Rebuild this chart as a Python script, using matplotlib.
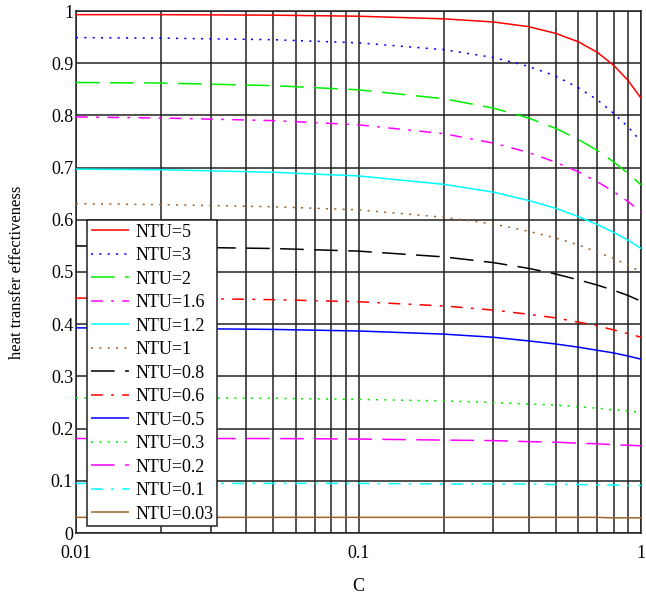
import matplotlib
matplotlib.use('Agg')
import matplotlib.pyplot as plt
from matplotlib.ticker import FixedLocator, FixedFormatter, NullFormatter

plt.rcParams['font.family'] = ['Liberation Serif', 'DejaVu Serif']
plt.rcParams['lines.scale_dashes'] = False

# capacity ratio C (read along x axis)
C = [0.01, 0.02, 0.05, 0.1, 0.2, 0.3, 0.4, 0.5, 0.6, 0.7, 0.8, 0.9, 1.0]

# effectiveness at the C values above
ntu_labels = ['NTU=5', 'NTU=3', 'NTU=2', 'NTU=1.6', 'NTU=1.2', 'NTU=1', 'NTU=0.8',
              'NTU=0.6', 'NTU=0.5', 'NTU=0.3', 'NTU=0.2', 'NTU=0.1', 'NTU=0.03']
eff_5 = [0.993, 0.993, 0.992, 0.990, 0.985, 0.979, 0.970, 0.957, 0.941, 0.921, 0.896, 0.867, 0.833]
eff_3 = [0.949, 0.948, 0.945, 0.939, 0.926, 0.911, 0.894, 0.875, 0.853, 0.830, 0.804, 0.778, 0.750]
eff_2 = [0.863, 0.862, 0.857, 0.849, 0.832, 0.814, 0.795, 0.775, 0.754, 0.733, 0.711, 0.689, 0.667]
eff_1_6 = [0.797, 0.795, 0.790, 0.782, 0.765, 0.747, 0.729, 0.710, 0.692, 0.673, 0.654, 0.635, 0.615]
eff_1_2 = [0.697, 0.696, 0.691, 0.684, 0.668, 0.653, 0.637, 0.622, 0.606, 0.591, 0.576, 0.561, 0.545]
eff_1 = [0.631, 0.629, 0.625, 0.619, 0.605, 0.592, 0.578, 0.565, 0.552, 0.538, 0.526, 0.513, 0.500]
eff_0_8 = [0.550, 0.548, 0.545, 0.540, 0.529, 0.518, 0.507, 0.496, 0.485, 0.475, 0.465, 0.455, 0.444]
eff_0_6 = [0.450, 0.450, 0.447, 0.443, 0.435, 0.427, 0.419, 0.412, 0.404, 0.397, 0.389, 0.382, 0.375]
eff_0_5 = [0.393, 0.392, 0.390, 0.387, 0.381, 0.375, 0.368, 0.362, 0.356, 0.350, 0.345, 0.339, 0.333]
eff_0_3 = [0.259, 0.259, 0.258, 0.256, 0.253, 0.250, 0.247, 0.245, 0.242, 0.239, 0.236, 0.234, 0.231]
eff_0_2 = [0.181, 0.181, 0.181, 0.180, 0.178, 0.177, 0.175, 0.174, 0.172, 0.171, 0.169, 0.168, 0.167]
eff_0_1 = [0.095, 0.095, 0.095, 0.095, 0.094, 0.094, 0.094, 0.093, 0.093, 0.092, 0.092, 0.091, 0.091]
eff_0_03 = [0.030, 0.030, 0.030, 0.030, 0.030, 0.030, 0.030, 0.030, 0.030, 0.030, 0.029, 0.029, 0.029]

curves = [eff_5, eff_3, eff_2, eff_1_6, eff_1_2, eff_1, eff_0_8,
          eff_0_6, eff_0_5, eff_0_3, eff_0_2, eff_0_1, eff_0_03]

brown = '#a0652d'
solid = (0, ())
dotted = (0, (1.5, 4.5))
dashed = (0, (17, 7.5))
dashdot = (0, (8.5, 6, 2, 6))
colors = ['#ff0000', '#0000ff', '#00ee00', '#ff00ff', '#00ffff', brown, 'black',
          '#ff0000', '#0000ff', '#00ee00', '#ff00ff', '#00ffff', brown]
styles = [solid, dotted, dashed, dashdot, solid, dotted, dashed,
          dashdot, solid, dotted, dashed, dashdot, solid]

fig = plt.figure(figsize=(6.46, 5.99), dpi=100)
ax = fig.add_axes([76/646, 1-533/599, 565/646, 522/599])

for y, lab, col, ls in zip(curves, ntu_labels, colors, styles):
    ax.plot(C, y, color=col, linestyle=ls, lw=1.1, label=lab, zorder=3)

ax.set_xscale('log')
ax.set_xlim(0.01, 1)
ax.set_ylim(0, 1)

ax.xaxis.set_major_locator(FixedLocator([0.01, 0.1, 1]))
ax.xaxis.set_major_formatter(FixedFormatter(['0.01', '0.1', '1']))
ax.xaxis.set_minor_locator(FixedLocator([k*0.01 for k in range(2, 10)] + [k*0.1 for k in range(2, 10)]))
ax.xaxis.set_minor_formatter(NullFormatter())
ax.set_yticks([i/10 for i in range(11)])
ax.set_yticklabels(['0', '0.1', '0.2', '0.3', '0.4', '0.5', '0.6', '0.7', '0.8', '0.9', '1'])

ax.tick_params(which='both', length=0, labelsize=13)
ax.tick_params(axis='x', pad=9)
ax.tick_params(axis='y', pad=2)
ax.grid(True, which='both', color='#222222', lw=1.1, zorder=1)
for s in ax.spines.values():
    s.set_color('#222222')
    s.set_linewidth(1.1)

ax.set_xlabel('C', fontsize=13)
ax.set_ylabel('heat transfer effectiveness', fontsize=12)
ax.xaxis.set_label_coords(0.5, -0.086)
ax.yaxis.set_label_coords(-0.090, 0.5)

leg = ax.legend(loc='upper left', bbox_to_anchor=((87-76)/565, (533-220)/522),
                borderaxespad=0, fontsize=13, handlelength=2.1, handletextpad=0.4,
                labelspacing=0.36, borderpad=0.2, fancybox=False, framealpha=1,
                edgecolor='#222222')
leg.get_frame().set_linewidth(1.1)
leg.set_zorder(5)

fig.savefig('out.png', dpi=100)
